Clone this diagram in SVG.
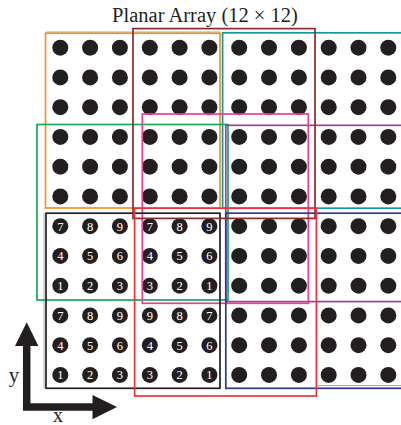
<svg xmlns="http://www.w3.org/2000/svg" width="401" height="425" viewBox="0 0 401 425">
<defs>
<style>
.d{fill:#231f20}
.n{fill:#fff;font-family:"Liberation Serif","Times New Roman",serif;font-size:12.5px;text-anchor:middle}
.b{fill:none;stroke-width:1.7}
.g{stroke:#a8a8a8;stroke-width:1;fill:none}
.t{fill:#231f20;font-family:"Liberation Serif","Times New Roman",serif}
</style>
<circle id="c" r="8" class="d"/>
</defs>
<rect width="401" height="425" fill="#fff"/>
<text class="t" x="205" y="22" font-size="20.5" text-anchor="middle">Planar Array (12 × 12)</text>
<g id="dots">
<g id="row1"><use href="#c" x="60.3" y="47.7"/><use href="#c" x="90.1" y="47.7"/><use href="#c" x="119.9" y="47.7"/><use href="#c" x="149.8" y="47.7"/><use href="#c" x="179.6" y="47.7"/><use href="#c" x="209.4" y="47.7"/><use href="#c" x="239.2" y="47.7"/><use href="#c" x="269" y="47.7"/><use href="#c" x="298.9" y="47.7"/><use href="#c" x="328.7" y="47.7"/><use href="#c" x="358.5" y="47.7"/><use href="#c" x="388.3" y="47.7"/></g>
<g id="row2"><use href="#c" x="60.3" y="77.45"/><use href="#c" x="90.1" y="77.45"/><use href="#c" x="119.9" y="77.45"/><use href="#c" x="149.8" y="77.45"/><use href="#c" x="179.6" y="77.45"/><use href="#c" x="209.4" y="77.45"/><use href="#c" x="239.2" y="77.45"/><use href="#c" x="269" y="77.45"/><use href="#c" x="298.9" y="77.45"/><use href="#c" x="328.7" y="77.45"/><use href="#c" x="358.5" y="77.45"/><use href="#c" x="388.3" y="77.45"/></g>
<g id="row3"><use href="#c" x="60.3" y="107.2"/><use href="#c" x="90.1" y="107.2"/><use href="#c" x="119.9" y="107.2"/><use href="#c" x="149.8" y="107.2"/><use href="#c" x="179.6" y="107.2"/><use href="#c" x="209.4" y="107.2"/><use href="#c" x="239.2" y="107.2"/><use href="#c" x="269" y="107.2"/><use href="#c" x="298.9" y="107.2"/><use href="#c" x="328.7" y="107.2"/><use href="#c" x="358.5" y="107.2"/><use href="#c" x="388.3" y="107.2"/></g>
<g id="row4"><use href="#c" x="60.3" y="136.95"/><use href="#c" x="90.1" y="136.95"/><use href="#c" x="119.9" y="136.95"/><use href="#c" x="149.8" y="136.95"/><use href="#c" x="179.6" y="136.95"/><use href="#c" x="209.4" y="136.95"/><use href="#c" x="239.2" y="136.95"/><use href="#c" x="269" y="136.95"/><use href="#c" x="298.9" y="136.95"/><use href="#c" x="328.7" y="136.95"/><use href="#c" x="358.5" y="136.95"/><use href="#c" x="388.3" y="136.95"/></g>
<g id="row5"><use href="#c" x="60.3" y="166.7"/><use href="#c" x="90.1" y="166.7"/><use href="#c" x="119.9" y="166.7"/><use href="#c" x="149.8" y="166.7"/><use href="#c" x="179.6" y="166.7"/><use href="#c" x="209.4" y="166.7"/><use href="#c" x="239.2" y="166.7"/><use href="#c" x="269" y="166.7"/><use href="#c" x="298.9" y="166.7"/><use href="#c" x="328.7" y="166.7"/><use href="#c" x="358.5" y="166.7"/><use href="#c" x="388.3" y="166.7"/></g>
<g id="row6"><use href="#c" x="60.3" y="196.45"/><use href="#c" x="90.1" y="196.45"/><use href="#c" x="119.9" y="196.45"/><use href="#c" x="149.8" y="196.45"/><use href="#c" x="179.6" y="196.45"/><use href="#c" x="209.4" y="196.45"/><use href="#c" x="239.2" y="196.45"/><use href="#c" x="269" y="196.45"/><use href="#c" x="298.9" y="196.45"/><use href="#c" x="328.7" y="196.45"/><use href="#c" x="358.5" y="196.45"/><use href="#c" x="388.3" y="196.45"/></g>
<g id="row7"><use href="#c" x="60.3" y="226.2"/><use href="#c" x="90.1" y="226.2"/><use href="#c" x="119.9" y="226.2"/><use href="#c" x="149.8" y="226.2"/><use href="#c" x="179.6" y="226.2"/><use href="#c" x="209.4" y="226.2"/><use href="#c" x="239.2" y="226.2"/><use href="#c" x="269" y="226.2"/><use href="#c" x="298.9" y="226.2"/><use href="#c" x="328.7" y="226.2"/><use href="#c" x="358.5" y="226.2"/><use href="#c" x="388.3" y="226.2"/></g>
<g id="row8"><use href="#c" x="60.3" y="255.95"/><use href="#c" x="90.1" y="255.95"/><use href="#c" x="119.9" y="255.95"/><use href="#c" x="149.8" y="255.95"/><use href="#c" x="179.6" y="255.95"/><use href="#c" x="209.4" y="255.95"/><use href="#c" x="239.2" y="255.95"/><use href="#c" x="269" y="255.95"/><use href="#c" x="298.9" y="255.95"/><use href="#c" x="328.7" y="255.95"/><use href="#c" x="358.5" y="255.95"/><use href="#c" x="388.3" y="255.95"/></g>
<g id="row9"><use href="#c" x="60.3" y="285.7"/><use href="#c" x="90.1" y="285.7"/><use href="#c" x="119.9" y="285.7"/><use href="#c" x="149.8" y="285.7"/><use href="#c" x="179.6" y="285.7"/><use href="#c" x="209.4" y="285.7"/><use href="#c" x="239.2" y="285.7"/><use href="#c" x="269" y="285.7"/><use href="#c" x="298.9" y="285.7"/><use href="#c" x="328.7" y="285.7"/><use href="#c" x="358.5" y="285.7"/><use href="#c" x="388.3" y="285.7"/></g>
<g id="row10"><use href="#c" x="60.3" y="315.45"/><use href="#c" x="90.1" y="315.45"/><use href="#c" x="119.9" y="315.45"/><use href="#c" x="149.8" y="315.45"/><use href="#c" x="179.6" y="315.45"/><use href="#c" x="209.4" y="315.45"/><use href="#c" x="239.2" y="315.45"/><use href="#c" x="269" y="315.45"/><use href="#c" x="298.9" y="315.45"/><use href="#c" x="328.7" y="315.45"/><use href="#c" x="358.5" y="315.45"/><use href="#c" x="388.3" y="315.45"/></g>
<g id="row11"><use href="#c" x="60.3" y="345.2"/><use href="#c" x="90.1" y="345.2"/><use href="#c" x="119.9" y="345.2"/><use href="#c" x="149.8" y="345.2"/><use href="#c" x="179.6" y="345.2"/><use href="#c" x="209.4" y="345.2"/><use href="#c" x="239.2" y="345.2"/><use href="#c" x="269" y="345.2"/><use href="#c" x="298.9" y="345.2"/><use href="#c" x="328.7" y="345.2"/><use href="#c" x="358.5" y="345.2"/><use href="#c" x="388.3" y="345.2"/></g>
<g id="row12"><use href="#c" x="60.3" y="374.95"/><use href="#c" x="90.1" y="374.95"/><use href="#c" x="119.9" y="374.95"/><use href="#c" x="149.8" y="374.95"/><use href="#c" x="179.6" y="374.95"/><use href="#c" x="209.4" y="374.95"/><use href="#c" x="239.2" y="374.95"/><use href="#c" x="269" y="374.95"/><use href="#c" x="298.9" y="374.95"/><use href="#c" x="328.7" y="374.95"/><use href="#c" x="358.5" y="374.95"/><use href="#c" x="388.3" y="374.95"/></g>
</g>
<g id="labels">
<text class="n" x="60.3" y="230.5">7</text><text class="n" x="90.1" y="230.5">8</text><text class="n" x="119.9" y="230.5">9</text><text class="n" x="149.8" y="230.5">7</text><text class="n" x="179.6" y="230.5">8</text><text class="n" x="209.4" y="230.5">9</text>
<text class="n" x="60.3" y="260.2">4</text><text class="n" x="90.1" y="260.2">5</text><text class="n" x="119.9" y="260.2">6</text><text class="n" x="149.8" y="260.2">4</text><text class="n" x="179.6" y="260.2">5</text><text class="n" x="209.4" y="260.2">6</text>
<text class="n" x="60.3" y="290">1</text><text class="n" x="90.1" y="290">2</text><text class="n" x="119.9" y="290">3</text><text class="n" x="149.8" y="290">3</text><text class="n" x="179.6" y="290">2</text><text class="n" x="209.4" y="290">1</text>
<text class="n" x="60.3" y="319.7">7</text><text class="n" x="90.1" y="319.7">8</text><text class="n" x="119.9" y="319.7">9</text><text class="n" x="149.8" y="319.7">9</text><text class="n" x="179.6" y="319.7">8</text><text class="n" x="209.4" y="319.7">7</text>
<text class="n" x="60.3" y="349.5">4</text><text class="n" x="90.1" y="349.5">5</text><text class="n" x="119.9" y="349.5">6</text><text class="n" x="149.8" y="349.5">4</text><text class="n" x="179.6" y="349.5">5</text><text class="n" x="209.4" y="349.5">6</text>
<text class="n" x="60.3" y="379.2">1</text><text class="n" x="90.1" y="379.2">2</text><text class="n" x="119.9" y="379.2">3</text><text class="n" x="149.8" y="379.2">3</text><text class="n" x="179.6" y="379.2">2</text><text class="n" x="209.4" y="379.2">1</text>
</g>
<g id="shadows">
<line class="g" x1="46" y1="32" x2="220" y2="32"/>
<line class="g" x1="44" y1="213" x2="44" y2="388"/>
<line class="g" x1="317" y1="385.5" x2="401" y2="385.5"/>
</g>
<g id="subarrays">
<rect id="orange" class="b" stroke="#f0922e" x="45.5" y="33.2" width="174.5" height="174.8"/>
<rect id="teal" class="b" stroke="#13999a" x="222.6" y="32.8" width="190" height="175.4"/>
<rect id="green" class="b" stroke="#17a85a" x="37" y="124.5" width="191" height="175.5"/>
<rect id="purple" class="b" stroke="#96459a" x="225.8" y="125.3" width="190" height="176.3"/>
<rect id="pink" class="b" stroke="#ec3d99" x="142.3" y="114" width="166" height="189.3"/>
<rect id="black" class="b" stroke="#231f20" x="46" y="213.2" width="174" height="175.1"/>
<rect id="blue" class="b" stroke="#33368f" x="225.8" y="213.2" width="190" height="175.1"/>
<rect id="brown" class="b" stroke="#8a2c2b" x="133" y="28.6" width="182" height="189.8"/>
<rect id="red" class="b" stroke="#ee3239" x="134.6" y="208.2" width="181.8" height="187.8"/>
</g>
<g id="axes">
<polyline points="26.7,344 26.7,407 93,407" fill="none" stroke="#231f20" stroke-width="7.5" stroke-linejoin="miter"/>
<polygon points="26.7,322.3 15,346 38.4,346" fill="#231f20"/>
<polygon points="117,407 92.5,395 92.5,419.3" fill="#231f20"/>
<text class="t" x="14" y="382" font-size="21" text-anchor="middle">y</text>
<text class="t" x="58" y="422" font-size="20" text-anchor="middle">x</text>
</g>
</svg>
